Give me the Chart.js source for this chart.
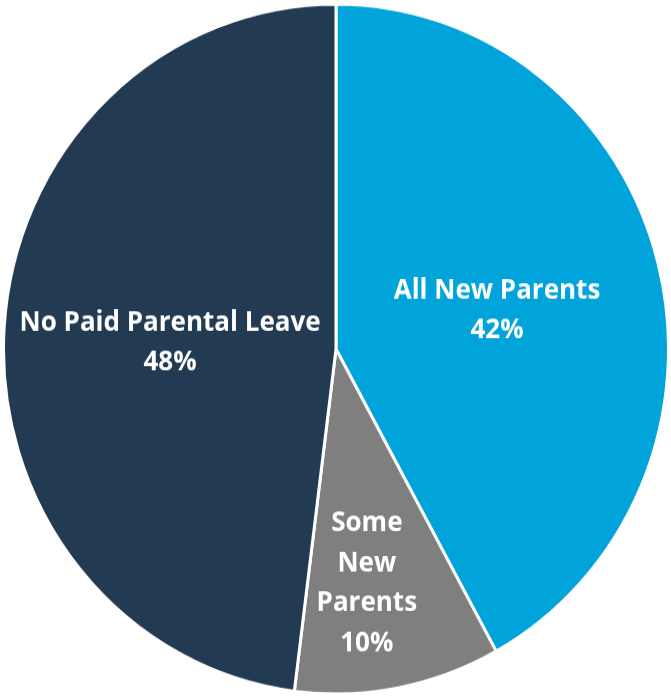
<!DOCTYPE html>
<html>
<head>
<meta charset="utf-8">
<script src="https://cdn.jsdelivr.net/npm/chart.js@4/dist/chart.umd.min.js"></script>
<style>
  html, body { margin: 0; padding: 0; background: #fff; }
  /* the pie is drawn on a square canvas and stretched a little in height */
  #leave-chart { display: block; width: 671px !important; height: 696px !important; }
</style>
</head>
<body>
<canvas id="leave-chart" width="671" height="671"></canvas>
<script>
let categories = [["All New Parents"], ["Some", "New", "Parents"], ["No Paid Parental Leave"]];
let shares = [42, 10, 48];
let colours = ["#00a3da", "#7f7f7f", "#233a53"];

// where each label sits: r = fraction of the radius, t = fraction across the slice
let labelPos = [
  { r: 0.5, t: 0.5 },
  { r: 0.673, t: 0.58 },
  { r: 0.5, t: 0.5 },
];

const sliceLabels = {
  id: "sliceLabels",
  afterDatasetsDraw(chart) {
    const ctx = chart.ctx;
    const arcs = chart.getDatasetMeta(0).data;
    ctx.save();
    ctx.fillStyle = "#ffffff";
    ctx.font = "bold 26px 'Open Sans', sans-serif";
    ctx.textAlign = "center";
    ctx.textBaseline = "middle";
    arcs.forEach((arc, i) => {
      const p = arc.getProps(["x", "y", "startAngle", "endAngle", "outerRadius"], true);
      const a = p.startAngle + (p.endAngle - p.startAngle) * labelPos[i].t;
      const r = p.outerRadius * labelPos[i].r;
      const cx = p.x + Math.cos(a) * r;
      const cy = p.y + Math.sin(a) * r + 4.5;
      const lines = categories[i].concat([shares[i] + "%"]);
      const lh = 38.5;
      lines.forEach((t, k) => {
        ctx.fillText(t, cx, cy + (k - (lines.length - 1) / 2) * lh);
      });
    });
    ctx.restore();
  },
};

let pie = new Chart(document.getElementById("leave-chart").getContext("2d"), {
  type: "pie",
  data: {
    labels: categories.map((c) => c.join(" ")),
    datasets: [
      {
        data: shares,
        backgroundColor: colours,
        borderColor: "#ffffff",
        borderWidth: 3,
      },
    ],
  },
  options: {
    responsive: false,
    animation: false,
    layout: { padding: { top: 2, left: 2, right: 1, bottom: 0 } },
    plugins: {
      legend: { display: false },
      tooltip: { enabled: false },
    },
  },
  plugins: [sliceLabels],
});
</script>
</body>
</html>
